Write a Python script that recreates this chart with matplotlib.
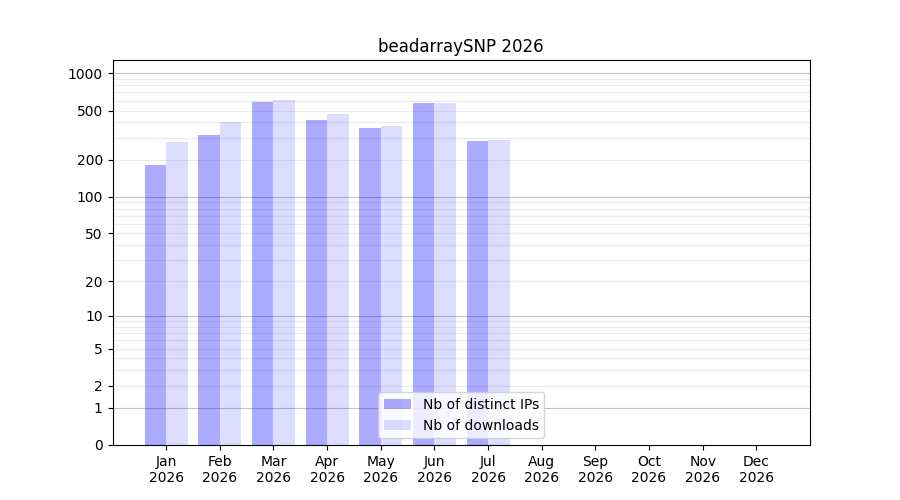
import matplotlib
matplotlib.use('Agg')
import matplotlib.pyplot as plt
import numpy as np

months = ['Jan', 'Feb', 'Mar', 'Apr', 'May', 'Jun', 'Jul', 'Aug', 'Sep', 'Oct', 'Nov', 'Dec']
year = '2026'
nb_ips = [181, 315, 583, 417, 359, 572, 282]
nb_downloads = [277, 402, 605, 467, 373, 570, 287]

yticks = [0, 1, 2, 5, 10, 20, 50, 100, 200, 500, 1000]
minor_ticks = [m * d for d in (1, 10, 100) for m in range(2, 10)]


def fwd(y):
    return np.log10(1 + np.clip(y, 0, None))


def inv(y):
    return 10 ** y - 1


fig, ax = plt.subplots(figsize=(9, 5), dpi=100)
ax.set_yscale('function', functions=(fwd, inv))

x = np.arange(len(nb_ips))
ax.bar(x, nb_ips, width=-0.4, align='edge', color='blue', alpha=0.33,
       label='Nb of distinct IPs')
ax.bar(x, nb_downloads, width=0.4, align='edge', color='blue', alpha=0.135,
       label='Nb of downloads')

ax.set_xticks(np.arange(len(months)))
ax.set_xticklabels([f'{m}\n{year}' for m in months])
ax.set_xlim(-1, 12)

ax.set_ylim(0, 1280)
ax.set_yticks(yticks)
ax.set_yticklabels([str(t) for t in yticks])
ax.set_yticks(minor_ticks, minor=True)
ax.tick_params(axis='y', which='minor', length=0)
ax.yaxis.grid(True, which='major', color='#c4c4c4', linewidth=0.8)
ax.yaxis.grid(True, which='minor', color='#ebebeb', linewidth=0.8)
ax.set_axisbelow(True)
# dark grid only at decades, light at the other labelled ticks
for gl, t in zip(ax.yaxis.get_gridlines(), yticks):
    if t not in (1, 10, 100, 1000):
        gl.set_color('#ebebeb')

ax.set_title(f'beadarraySNP {year}')
ax.legend(loc='lower center')

plt.savefig('out.png')
